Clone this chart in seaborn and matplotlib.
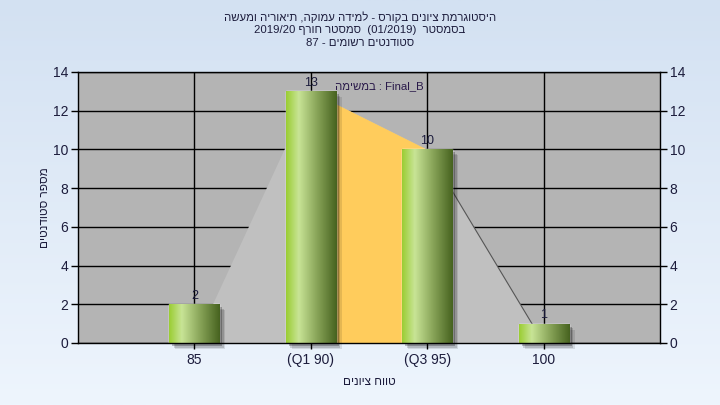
import numpy as np
import pandas as pd
import matplotlib
matplotlib.use('Agg')
import matplotlib.pyplot as plt
from matplotlib.colors import LinearSegmentedColormap
from matplotlib.patches import Rectangle
from matplotlib.transforms import ScaledTranslation
import seaborn as sns

# datos del histograma
categorias = ['85', '(Q1 90)', '(Q3 95)', '100']
alumnos = [2, 13, 10, 1]
# perfil del area de fondo (min, Q1, Q3, max)
perfil = [0, 13, 10, 0]
ticks_y = [0, 2, 4, 6, 8, 10, 12, 14]


def heb(s):
    # matplotlib no hace bidi: invertir el texto hebreo para mostrarlo bien
    return s[::-1]


titulo1 = heb("היסטוגרמת ציונים בקורס - למידה עמוקה, תיאוריה ומעשה")
titulo2 = "2019/20 " + heb("סמסטר חורף") + "  (01/2019)  " + heb("בסמסטר")
titulo3 = "87 - " + heb("סטודנטים רשומים")
etiqueta_y = heb("מספר סטודנטים")
etiqueta_x = heb("טווח ציונים")
nota = heb("במשימה") + " : Final_B"

sns.set_theme(style='white')
plt.rcParams['font.family'] = ['Liberation Sans', 'DejaVu Sans']
texto = '#1c1c3c'

fig = plt.figure(figsize=(7.2, 4.05), dpi=100)

# fondo degradado azul claro
bg = fig.add_axes([0, 0, 1, 1], zorder=-10)
grad_bg = np.linspace(0, 1, 256).reshape(-1, 1)
cmap_bg = LinearSegmentedColormap.from_list('bg', ['#d3e1f2', '#eef5fd'])
bg.imshow(grad_bg, aspect='auto', cmap=cmap_bg, extent=[0, 1, 0, 1])
bg.axis('off')

ax = fig.add_axes([78 / 720, 1 - 343 / 405, 582 / 720, 271 / 405])
ax.set_facecolor('#b4b4b4')

df = pd.DataFrame({'rango': categorias, 'n': alumnos})
sns.barplot(data=df, x='rango', y='n', color='#9acd32', width=0.43,
            ax=ax, zorder=2)

pos = np.arange(len(categorias))
ax.fill_between(pos, perfil, color='#c0c0c0', zorder=1, lw=0)
ax.fill_between(pos[1:3], perfil[1:3], color='#ffcc5c', zorder=1.1, lw=0)
ax.plot(pos[2:4], perfil[2:4], color='#555555', lw=0.8, zorder=1.2)

# sombras y degradado de las barras
cmap_bar = LinearSegmentedColormap.from_list(
    'verde', [(0, '#9acd32'), (0.25, '#c8e496'), (0.6, '#8aa65a'), (1, '#46621f')])
grad = np.linspace(0, 1, 256).reshape(1, -1)
for p in list(ax.patches):
    x, w, h = p.get_x(), p.get_width(), p.get_height()
    for k, a in [(6, 0.10), (4.5, 0.15), (3, 0.25)]:
        off = ScaledTranslation(k / 100, -k / 100, fig.dpi_scale_trans)
        sh = Rectangle((x, 0), w, h, facecolor='black', alpha=a, lw=0,
                       transform=ax.transData + off, zorder=1.5, clip_on=False)
        ax.add_patch(sh)
    im = ax.imshow(grad, extent=[x, x + w, 0, h], aspect='auto',
                   cmap=cmap_bar, zorder=2.1)
    im.set_clip_path(p)

for i, v in enumerate(alumnos):
    ax.annotate(str(v), (pos[i], v), xytext=(0, 2), textcoords='offset points',
                ha='center', va='bottom', fontsize=9, color=texto, zorder=3)

ax.text(0.517, 0.948, nota, transform=ax.transAxes, ha='center', va='center',
        fontsize=8.2, color='#2a1a4a', zorder=3)

ax.set_xlim(-1, 4)
ax.set_ylim(0, 14)
ax.set_yticks(ticks_y)
ax.set_xticks(pos)
ax.set_xticklabels(categorias)
ax.grid(True, color='black', lw=1)
ax.set_axisbelow(True)
ax.yaxis.set_ticks_position('both')
ax.xaxis.set_ticks_position('bottom')
ax.tick_params(axis='y', direction='out', length=5, width=1, color='black',
               labelright=True, labelsize=10, labelcolor=texto, pad=2)
ax.tick_params(axis='x', direction='out', length=4, width=1, color='black',
               labelsize=10, labelcolor=texto, pad=3)
for s in ax.spines.values():
    s.set_color('black')
    s.set_linewidth(1)

ax.set_xlabel(etiqueta_x, fontsize=8.5, color=texto, labelpad=7)
ax.set_ylabel(etiqueta_y, fontsize=8.5, color=texto, labelpad=1)

fig.text(0.5, 1 - 17 / 405, titulo1, ha='center', va='center', fontsize=8.2, color=texto)
fig.text(0.5, 1 - 30 / 405, titulo2, ha='center', va='center', fontsize=8.2, color=texto)
fig.text(0.5, 1 - 43 / 405, titulo3, ha='center', va='center', fontsize=8.2, color=texto)

fig.savefig('out.png', dpi=100)
